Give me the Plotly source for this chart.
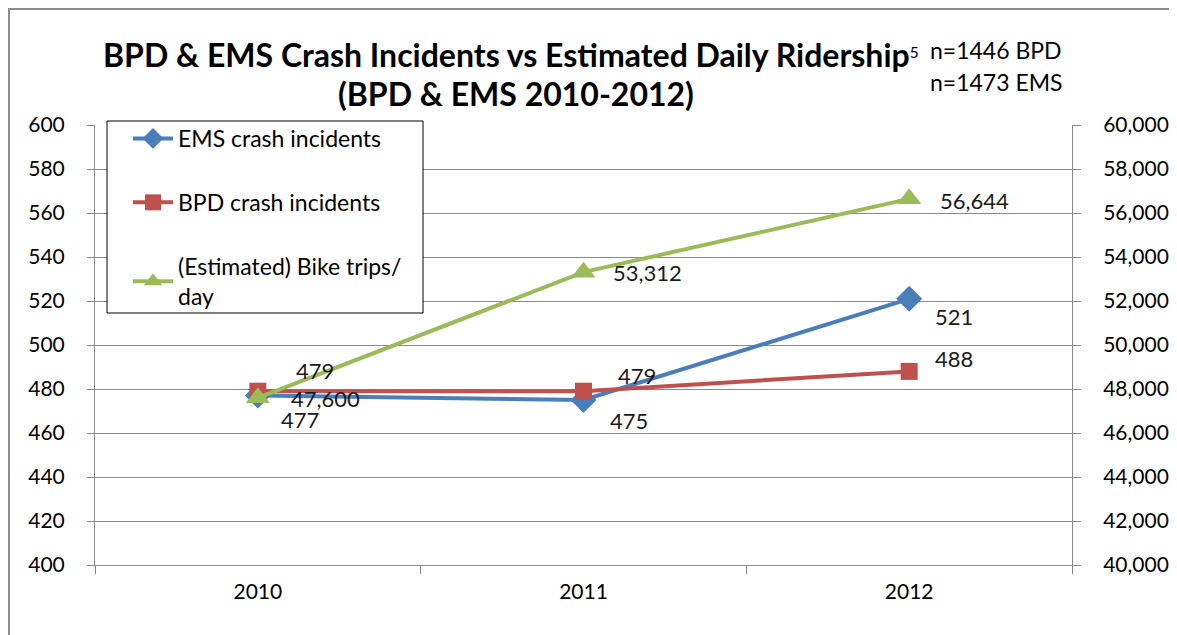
import plotly.graph_objects as go

years = ["2010", "2011", "2012"]
ems = [477, 475, 521]
bpd = [479, 479, 488]
bike = [47600, 53312, 56644]

FONT = "Lato, sans-serif"
BLUE = "#4A7EBB"
RED = "#C0504D"
GREEN = "#9BBB59"
GRID = "#898989"


def px(x):
    return (x - 95) / 977


def py(y):
    return (565 - y) / 440


fig = go.Figure()
fig.add_trace(go.Scatter(x=years, y=ems, name="EMS crash incidents", mode="lines+markers",
                         line=dict(color=BLUE, width=4), legendgroup="a",
                         marker=dict(symbol="diamond", size=20, color=BLUE)))
fig.add_trace(go.Scatter(x=years, y=bpd, name="BPD crash incidents", mode="lines+markers",
                         line=dict(color=RED, width=4), legendgroup="b",
                         marker=dict(symbol="square", size=17, color=RED)))
fig.add_trace(go.Scatter(x=years, y=bike, name="(Estimated) Bike trips/<br>day", mode="lines+markers",
                         line=dict(color=GREEN, width=4), legendgroup="c", yaxis="y2",
                         marker=dict(symbol="triangle-up", size=21, color=GREEN)))

# data labels (category axis -> index positions)
ems_shift = [(21, -24), (24, -20), (24, -18)]
bpd_shift = [(36, 21), (32, 16), (24, 13)]
bike_shift = [(31, -1), (27, 0), (29, -2)]
lab = dict(size=22, color="#1a1a1a")
for i in range(len(years)):
    fig.add_annotation(x=i, y=ems[i], text=str(ems[i]), showarrow=False, xanchor="left",
                       xshift=ems_shift[i][0], yshift=ems_shift[i][1], font=lab)
    fig.add_annotation(x=i, y=bpd[i], text=str(bpd[i]), showarrow=False, xanchor="left",
                       xshift=bpd_shift[i][0], yshift=bpd_shift[i][1], font=lab)
    fig.add_annotation(x=i, y=bike[i], yref="y2", text=f"{bike[i]:,}", showarrow=False, xanchor="left",
                       xshift=bike_shift[i][0], yshift=bike_shift[i][1], font=lab)

# title and n notes
fig.add_annotation(xref="paper", yref="paper", x=px(101), y=py(55), xanchor="left", yanchor="middle",
                   text="<b>BPD & EMS Crash Incidents vs Estimated Daily Ridership</b>"
                        "<span style='font-size:22px'><sup>5</sup></span>",
                   showarrow=False, font=dict(size=32, color="black"))
fig.add_annotation(xref="paper", yref="paper", x=px(336), y=py(94), xanchor="left", yanchor="middle",
                   text="<b>(BPD & EMS 2010-2012)</b>", showarrow=False, font=dict(size=32, color="black"))
fig.add_annotation(xref="paper", yref="paper", x=px(928), y=py(50), xanchor="left", yanchor="middle",
                   text="n=1446 BPD", showarrow=False, font=dict(size=23))
fig.add_annotation(xref="paper", yref="paper", x=px(928), y=py(82), xanchor="left", yanchor="middle",
                   text="n=1473 EMS", showarrow=False, font=dict(size=23))

# legend box and outer chart border
fig.add_shape(type="rect", xref="paper", yref="paper", layer="above",
              x0=px(107), x1=px(423), y0=py(313), y1=py(121),
              fillcolor="white", line=dict(color="black", width=1))
fig.add_shape(type="rect", xref="paper", yref="paper",
              x0=px(9), x1=px(1190), y0=py(660), y1=py(9),
              line=dict(color="#8c8c8c", width=2))

fig.update_layout(
    width=1177, height=635,
    margin=dict(l=87, r=113, t=117, b=78),
    paper_bgcolor="white", plot_bgcolor="white",
    font=dict(family=FONT, size=22, color="black"),
    showlegend=True,
    legend=dict(x=px(128), y=py(117), xanchor="left", yanchor="top",
                bgcolor="rgba(0,0,0,0)", traceorder="grouped", tracegroupgap=31,
                font=dict(size=23), itemwidth=40),
    xaxis=dict(type="category", tickson="boundaries", ticks="outside", ticklen=8, tickcolor=GRID,
               showline=True, linecolor=GRID, showgrid=False, range=[-0.5, 2.5],
               tickfont=dict(size=21), ticklabelstandoff=8),
    yaxis=dict(range=[400, 600], dtick=20, showgrid=True, gridcolor=GRID, showline=True,
               linecolor=GRID, ticks="outside", ticklen=7, tickcolor=GRID, zeroline=False,
               tickfont=dict(size=21), ticklabelstandoff=18),
    yaxis2=dict(range=[40000, 60000], dtick=2000, overlaying="y", side="right", showgrid=False,
                tickformat=",", showline=True, linecolor=GRID, ticks="outside", ticklen=8,
                tickcolor=GRID, zeroline=False, tickfont=dict(size=21), ticklabelstandoff=18),
)

fig.write_html("out.html")
